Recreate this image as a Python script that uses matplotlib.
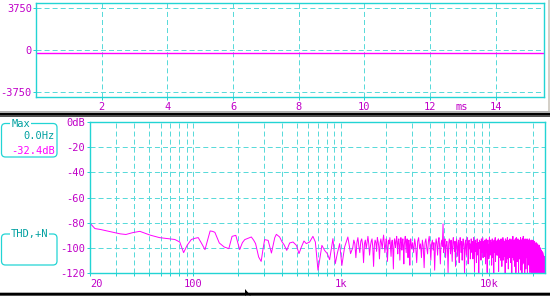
import matplotlib
matplotlib.use('Agg')
import matplotlib.pyplot as plt
import numpy as np
from matplotlib.patches import Rectangle, FancyBboxPatch, Polygon
from matplotlib.transforms import IdentityTransform

plt.rcParams['font.family'] = ['DejaVu Sans Mono', 'DejaVu Sans']
plt.rcParams['lines.scale_dashes'] = False

# --- waveform (top panel), ms / raw sample value
wave_t = [0.0, 15.44]
wave_v = [-300, -300]

# --- spectrum (bottom panel)
# below ~1.2 kHz: points read one by one
low_freq = [20, 21.6, 23.5, 28, 32, 35, 39, 43.5, 47, 51,
            59, 69, 75, 81, 86, 91, 97, 103, 108, 114,
            120, 125, 130, 135, 140, 150, 162, 174, 183, 194,
            206, 215, 223, 235, 247, 256, 264, 277, 288, 296,
            304, 321, 338, 356, 365, 384, 399, 411, 429, 449,
            473, 499, 519, 539, 561, 582, 613, 645, 670, 698,
            716, 742, 774, 807, 837, 881, 914, 943, 978, 1013,
            1057, 1112, 1160]
low_db = [-80.5, -84.8, -85.5, -87.5, -89, -89.5, -88, -87, -88.5, -90,
          -92, -93, -93.5, -95.5, -104, -98, -93.5, -92.5, -92, -96.8,
          -101.6, -94, -86.7, -87, -87.8, -96.3, -99.5, -100.8, -91, -90.2,
          -101.6, -96, -93.6, -92.5, -91.5, -94, -96.8, -107.5, -111, -101.6,
          -93.6, -94.2, -104.3, -92, -89.4, -91.5, -95.5, -97.6, -102.2, -96.3,
          -95.5, -98.2, -104.8, -99.5, -94.7, -96.8, -95.5, -91, -95.5, -118,
          -110, -98.2, -102.2, -104.8, -109.6, -92.8, -112.8, -104.8, -96.8, -114.2,
          -99.5, -91.5, -104.8]

# 1.2 kHz - 3 kHz, 20 Hz bins
mid_start, mid_step = 1200, 20
mid_db = [-100, -94, -97, -108, -96, -92, -99, -104, -95, -93,
          -98, -112, -97, -94, -101, -96, -91, -97, -106, -99,
          -95, -93, -100, -115, -98, -94, -96, -103, -92, -95,
          -99, -109, -96, -93, -97, -101, -94, -90, -96, -104,
          -98, -93, -95, -111, -100, -94, -97, -92, -99, -107,
          -96, -94, -101, -117, -99, -93, -96, -100, -94, -91,
          -97, -105, -95, -93, -98, -110, -97, -92, -95, -102,
          -96, -93, -99, -113, -98, -94, -91, -97, -104, -95,
          -93, -98, -108, -96, -94, -100, -114, -97, -93, -96,
          -101]

# 3 kHz - 24 kHz, 50 Hz bins
high_start, high_step = 3050, 50
high_db = [-96, -104, -93, -99, -112, -95, -92, -101, -97, -108,
           -94, -99, -116, -96, -93, -100, -105, -95, -91, -98,
           -110, -97, -94, -102, -96, -118, -99, -93, -97, -106,
           -95, -92, -100, -113, -97, -94, -99, -81, -104, -96,
           -93, -108, -98, -95, -101, -120, -97, -93, -96, -105,
           -94, -99, -111, -96, -92, -98, -103, -95, -115, -97,
           -93, -100, -107, -96, -94, -112, -98, -92, -97, -104,
           -95, -110, -99, -93, -96, -102, -121, -97, -94, -100,
           -106, -95, -92, -98, -113, -96, -94, -101, -97, -109,
           -99, -93, -96, -104, -95, -109, -98, -92, -100, -119,
           -96, -94, -103, -97, -112, -95, -93, -99, -106, -96,
           -121, -98, -94, -97, -101, -95, -110, -93, -96, -104,
           -98, -92, -108, -97, -95, -100, -107, -94, -96, -113,
           -99, -93, -97, -105, -120, -96, -94, -101, -98, -109,
           -95, -92, -99, -106, -97, -94, -103, -96, -114, -98,
           -93, -100, -108, -95, -97, -121, -94, -99, -104, -96,
           -92, -111, -98, -95, -102, -97, -106, -94, -96, -106,
           -99, -93, -119, -97, -95, -101, -108, -94, -98, -110,
           -96, -93, -104, -98, -115, -95, -97, -100, -92, -110,
           -97, -94, -107, -99, -96, -103, -95, -121, -93, -98,
           -105, -96, -112, -94, -97, -101, -92, -109, -98, -95,
           -117, -97, -94, -102, -96, -108, -99, -93, -106, -97,
           -95, -112, -98, -94, -100, -121, -96, -93, -104, -97,
           -91, -108, -99, -95, -110, -97, -94, -103, -96, -115,
           -98, -93, -101, -96, -120, -95, -92, -107, -97, -111,
           -94, -99, -111, -96, -93, -104, -98, -121, -95, -97,
           -102, -94, -109, -98, -95, -109, -96, -92, -100, -118,
           -97, -94, -105, -99, -121, -96, -93, -102, -97, -113,
           -95, -91, -108, -98, -112, -96, -94, -103, -97, -121,
           -99, -93, -110, -96, -95, -117, -98, -94, -108, -97,
           -96, -104, -93, -99, -121, -95, -97, -106, -94, -112,
           -98, -95, -101, -114, -96, -93, -112, -97, -94, -120,
           -99, -96, -105, -110, -95, -97, -103, -94, -121, -98,
           -96, -113, -99, -95, -108, -97, -120, -94, -101, -98,
           -97, -121, -100, -96, -111, -98, -120, -95, -104, -99,
           -98, -121, -102, -97, -115, -99, -121, -96, -106, -100,
           -99, -120, -103, -98, -121, -101, -117, -97, -108, -100,
           -100, -121, -105, -99, -119, -102, -121, -98, -110, -101,
           -102, -121, -106, -100, -120, -103, -121, -101, -113, -103,
           -104, -121, -108, -102, -121, -105, -119, -103, -115, -105,
           -106, -121, -110, -104, -121, -107, -120, -106, -117, -108,
           -109, -121, -112, -107, -121, -110, -121, -109, -119, -112]

db_ticks = [0, -20, -40, -60, -80, -100, -120]
db_labels = ['0dB', '-20', '-40', '-60', '-80', '-100', '-120']
freq_ticks = [20, 100, 1000, 10000]
freq_labels = ['20', '100', '1k', '10k']
ms_ticks = [2, 4, 6, 8, 10, 12, 14]
amp_ticks = [-3750, 0, 3750]

mid_freq = mid_start + mid_step * np.arange(len(mid_db))
high_freq = high_start + high_step * np.arange(len(high_db))
freq = np.concatenate([low_freq, mid_freq, high_freq])
level = np.concatenate([low_db, mid_db, high_db])

frame_c = '#22D4D4'
grid_c = '#5ADADA'
label_c = '#C000C8'
trace_c = '#FF00FF'
teal = '#00A0A0'
fs = 7.5

W, H = 550, 296
fig = plt.figure(figsize=(W / 100, H / 100), dpi=100)
fig.patch.set_facecolor('white')


def frac(x0, y0, x1, y1):
    return [x0 / W, 1 - y1 / H, (x1 - x0) / W, (y1 - y0) / H]


def style(ax):
    for s in ax.spines.values():
        s.set_color(frame_c)
        s.set_linewidth(1.0)
    ax.tick_params(which='both', direction='out', color=frame_c, length=2.2,
                   width=0.72, labelcolor=label_c, labelsize=fs)
    ax.grid(True, which='both', color=grid_c, lw=0.72, linestyle=(0, (3.6, 2.2)))
    ax.set_axisbelow(True)


# top: time waveform
ax1 = fig.add_axes(frac(36, 3, 544, 97))
ax1.plot(wave_t, wave_v, color=trace_c, lw=1.0)
ax1.set_xlim(0, 15.47)
ax1.set_ylim(-4200, 4200)
ax1.set_xticks(ms_ticks)
ax1.set_yticks(amp_ticks)
ax1.set_yticklabels([str(v) for v in amp_ticks])
style(ax1)
ax1.tick_params(axis='y', pad=0.8)
ax1.tick_params(axis='x', pad=1.2)
fig.text(461.7 / W, 1 - 106.5 / H, 'ms', color=label_c, fontsize=fs,
         ha='center', va='center')

# bottom: spectrum
ax2 = fig.add_axes(frac(90, 122.3, 545, 272.7))
ax2.plot(freq, level, color=trace_c, lw=0.7)
ax2.set_xscale('log')
ax2.set_xlim(20, 24000)
ax2.set_ylim(-120, 0)
ax2.set_xticks(freq_ticks)
ax2.set_xticklabels(freq_labels)
minor = [m * d for d in (10, 100, 1000, 10000) for m in range(2, 10)
         if 20 < m * d < 24000]
ax2.set_xticks(minor, minor=True)
ax2.set_xticklabels([], minor=True)
ax2.set_yticks(db_ticks)
ax2.set_yticklabels(db_labels)
style(ax2)
ax2.tick_params(axis='y', pad=1.2)
ax2.tick_params(axis='x', pad=2.0)
ax2.get_xticklabels()[0].set_horizontalalignment('left')

# window chrome: separator bars and side strip
for y0, y1, c in [(111, 112.5, '#B0B0B0'), (112.5, 115, '#000000'), (115, 116.5, '#505050'),
                  (291.5, 292.5, '#B0B0B0'), (292.5, 295, '#000000'), (295, 296, '#505050')]:
    fig.add_artist(Rectangle((0, 1 - y1 / H), 1, (y1 - y0) / H,
                             transform=fig.transFigure, color=c, lw=0))
fig.add_artist(Rectangle((547.5 / W, 1 - 111 / H), 2.5 / W, 111 / H,
                         transform=fig.transFigure, color='#D4D0C8', lw=0))
fig.add_artist(Polygon([(245, H - 289), (245, H - 296), (247, H - 294), (251, H - 296)],
                       closed=True, transform=IdentityTransform(), color='black', lw=0))

# info boxes on the left
for (x0, y0, x1, y1) in [(1.5, 123.5, 57, 157), (1.5, 234, 57, 265)]:
    fig.add_artist(FancyBboxPatch((x0, H - y1), x1 - x0, y1 - y0,
                                  boxstyle='round,pad=0,rounding_size=4',
                                  transform=IdentityTransform(),
                                  facecolor='white', edgecolor=frame_c, lw=0.9))

tb = dict(facecolor='white', edgecolor='none', pad=0.6)
fig.text(20.5 / W, 1 - 124 / H, 'Max', color=teal, fontsize=fs,
         ha='center', va='center', bbox=tb)
fig.text(55 / W, 1 - 135.7 / H, '0.0Hz', color=teal, fontsize=fs,
         ha='right', va='center')
fig.text(55 / W, 1 - 150.7 / H, '-32.4dB', color=trace_c, fontsize=fs,
         ha='right', va='center')
fig.text(29.5 / W, 1 - 234 / H, 'THD,+N', color=teal, fontsize=fs,
         ha='center', va='center', bbox=tb)

fig.savefig('out.png', dpi=100)
